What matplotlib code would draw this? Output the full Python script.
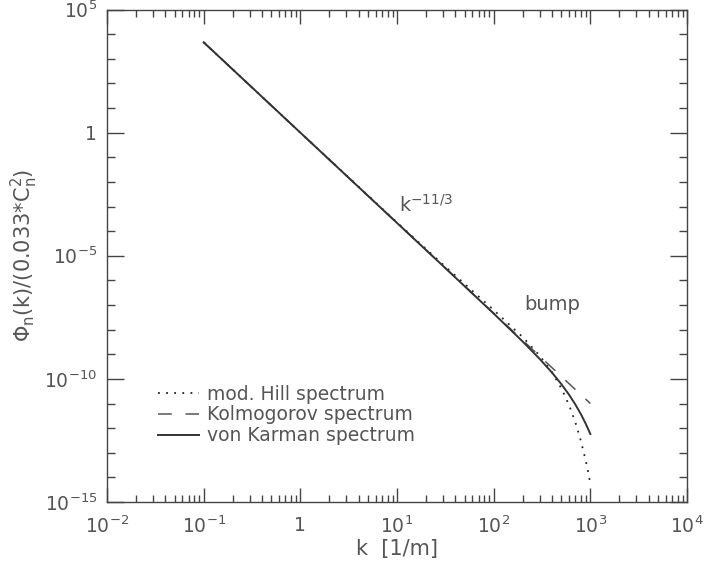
import numpy as np
import matplotlib
matplotlib.use("Agg")
import matplotlib.pyplot as plt
from matplotlib.ticker import LogLocator, FixedLocator, NullFormatter

# wavenumbers [1/m]
k_pts = [0.1, 1, 10, 30, 100, 200, 300, 400, 500, 600, 700, 800, 900, 950, 1000]

# log10 of spectrum / (0.033*Cn^2)
hill_log = [3.667, 0.002, -3.646, -5.360, -7.202, -8.307, -9.060, -9.722,
            -10.373, -11.048, -11.763, -12.530, -13.356, -13.792, -14.245]
kolm_log = [3.667, 0.0, -3.667, -5.416, -7.333, -8.437, -9.083, -9.541,
            -9.897, -10.188, -10.433, -10.646, -10.833, -10.918, -11.0]
vk_log = [3.667, 0.0, -3.667, -5.417, -7.346, -8.487, -9.194, -9.739,
          -10.207, -10.634, -11.040, -11.439, -11.837, -12.04, -12.239]

txt = "#555555"
plt.rcParams['font.family'] = ['DejaVu Sans']
plt.rcParams['mathtext.default'] = 'regular'

fig = plt.figure(figsize=(7.08, 5.74), dpi=100)
ax = fig.add_axes([107/708, 1 - 502/574, 580/708, 492.5/574])

k = np.array(k_pts)
ax.plot(k, 10**np.array(hill_log), color="#222222", lw=1.3, ls=(0, (1, 3.5)),
        label="mod. Hill spectrum")
ax.plot(k, 10**np.array(kolm_log), color="#555555", lw=1.1, ls=(0, (9, 9)),
        label="Kolmogorov spectrum")
ax.plot(k, 10**np.array(vk_log), color="#333333", lw=1.4, ls="-",
        label="von Karman spectrum")

ax.set_xscale("log")
ax.set_yscale("log")
ax.set_xlim(1e-2, 1e4)
ax.set_ylim(1e-15, 1e5)

ax.xaxis.set_major_locator(FixedLocator([1e-2, 1e-1, 1, 1e1, 1e2, 1e3, 1e4]))
ax.xaxis.set_minor_locator(LogLocator(base=10, subs=np.arange(2, 10), numticks=20))
ax.xaxis.set_minor_formatter(NullFormatter())
ax.set_xticklabels(["$10^{-2}$", "$10^{-1}$", "1", "$10^{1}$", "$10^{2}$",
                    "$10^{3}$", "$10^{4}$"])

ax.yaxis.set_major_locator(FixedLocator([1e-15, 1e-10, 1e-5, 1, 1e5]))
ax.yaxis.set_minor_locator(FixedLocator([10.0**e for e in range(-15, 6)]))
ax.yaxis.set_minor_formatter(NullFormatter())
ax.set_yticklabels(["$10^{-15}$", "$10^{-10}$", "$10^{-5}$", "1", "$10^{5}$"])

ax.tick_params(which="both", direction="in", top=True, right=True,
               colors="#444444", labelcolor=txt, labelsize=13.5, width=1)
ax.tick_params(axis="x", which="major", length=10, pad=10)
ax.tick_params(axis="x", which="minor", length=5)
ax.tick_params(axis="y", which="major", length=12, pad=7)
ax.tick_params(axis="y", which="minor", length=6)
for s in ax.spines.values():
    s.set_color("#444444")
    s.set_linewidth(1)

ax.set_xlabel("k  [1/m]", fontsize=15, color=txt, labelpad=1)
ax.set_ylabel("Φ$_n$(k)/(0.033*C$_n^2$)", fontsize=15, color=txt, labelpad=3)

ax.text(10.5, 10**-2.93, "k$^{-11/3}$", fontsize=14, color=txt, va="center")
ax.text(205, 10**-7.0, "bump", fontsize=14, color=txt, va="center")

leg = ax.legend(loc="lower left", bbox_to_anchor=(0.075, 0.1), frameon=False,
                fontsize=13.5, handlelength=2.2, handletextpad=0.4,
                labelspacing=0.1, borderaxespad=0)
for t in leg.get_texts():
    t.set_color(txt)

fig.savefig("out.png", dpi=100)
